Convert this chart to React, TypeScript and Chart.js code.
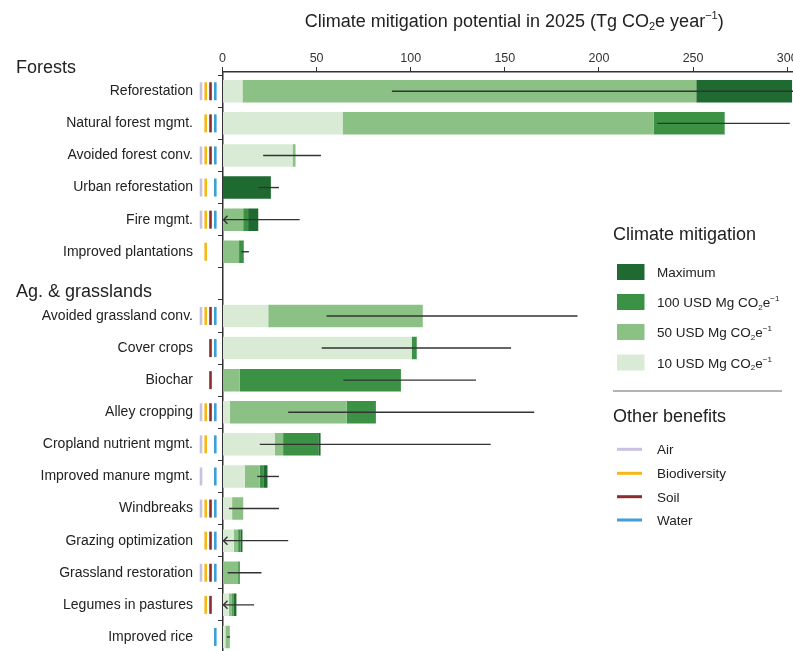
import { useEffect, useRef } from 'react';
import { Chart, registerables } from 'chart.js';

Chart.register(...registerables);

// categories top to bottom, "" is the spacer row under the Ag. & grasslands heading
const categories = [
  'Reforestation',
  'Natural forest mgmt.',
  'Avoided forest conv.',
  'Urban reforestation',
  'Fire mgmt.',
  'Improved plantations',
  '',
  'Avoided grassland conv.',
  'Cover crops',
  'Biochar',
  'Alley cropping',
  'Cropland nutrient mgmt.',
  'Improved manure mgmt.',
  'Windbreaks',
  'Grazing optimization',
  'Grassland restoration',
  'Legumes in pastures',
  'Improved rice',
];

// stacked segments (Tg CO2e / yr), each one added on top of the previous
const usd10 = [10.6, 63.8, 37.2, 0, 0, 0, null, 24.3, 100.5, 0, 3.9, 27.8, 11.9, 5.1, 6, 0, 3.4, 1.5];
const usd50 = [241.1, 165.2, 1.6, 0, 11, 8.8, null, 82.1, 0, 9.2, 62.1, 4.4, 7.9, 5.9, 2.3, 8.3, 1.7, 2.4];
const usd100 = [0, 37.8, 0, 0, 2.6, 2.5, null, 0, 2.7, 85.6, 15.5, 18.7, 2.2, 0, 1.3, 0.9, 0.8, 0];
const maximum = [50.9, 0, 0, 25.7, 5.4, 0, null, 0, 0, 0, 0, 1.2, 1.9, 0, 1.0, 0, 1.5, 0];

// uncertainty range (negative low = extends past zero, drawn as an arrow)
const errLow = [90, 231, 21.6, 19, -5, 10, null, 55.3, 52.7, 64.2, 34.9, 19.8, 18.4, 3.4, -3, 2.7, -3, 2.3];
const errHigh = [320, 301.4, 52.3, 30, 41, 14, null, 188.6, 153.3, 134.7, 165.6, 142.5, 30, 30, 34.9, 20.7, 16.8, 4];

// other benefits per row
const air = [1, 0, 1, 1, 1, 0, 0, 1, 0, 0, 1, 1, 1, 1, 0, 1, 0, 0];
const biodiversity = [1, 1, 1, 1, 1, 1, 0, 1, 0, 0, 1, 1, 0, 1, 1, 1, 1, 0];
const soil = [1, 1, 1, 0, 1, 0, 0, 1, 1, 1, 1, 0, 0, 1, 1, 1, 1, 0];
const water = [1, 1, 1, 1, 1, 0, 0, 1, 1, 0, 1, 1, 1, 1, 1, 1, 0, 1];

const xTicks = [0, 50, 100, 150, 200, 250, 300];

const C_MAX = '#1f6a30';
const C_100 = '#3b9244';
const C_50 = '#8cc185';
const C_10 = '#d9ebd5';
const C_AIR = '#c9c1df';
const C_BIO = '#f4b916';
const C_SOIL = '#8e2c2c';
const C_WATER = '#3d9fd6';

const FONT = '"Liberation Sans", Arial, sans-serif';
const INK = '#222';

type Part = [string, number]; // 0 normal, 1 subscript, 2 superscript

function drawRich(ctx: CanvasRenderingContext2D, parts: Part[], x: number, y: number, size: number, align: 'left' | 'center') {
  const small = Math.round(size * 0.62);
  let w = 0;
  parts.forEach(([t, k]) => {
    ctx.font = `${k ? small : size}px ${FONT}`;
    w += ctx.measureText(t).width;
  });
  let cx = align === 'center' ? x - w / 2 : x;
  ctx.textAlign = 'left';
  ctx.textBaseline = 'alphabetic';
  parts.forEach(([t, k]) => {
    ctx.font = `${k ? small : size}px ${FONT}`;
    const dy = k === 1 ? size * 0.22 : k === 2 ? -size * 0.42 : 0;
    ctx.fillText(t, cx, y + dy);
    cx += ctx.measureText(t).width;
  });
}

const overlay = {
  id: 'overlay',
  afterDatasetsDraw(chart: any) {
    const { ctx, scales: { x, y } } = chart;
    ctx.save();
    ctx.strokeStyle = '#333';
    ctx.lineWidth = 1.4;
    errLow.forEach((lo, i) => {
      const hi = errHigh[i];
      if (lo == null || hi == null) return;
      const py = y.getPixelForValue(i);
      const x1 = x.getPixelForValue(Math.max(lo, 0));
      const x2 = x.getPixelForValue(Math.min(hi, x.max));
      ctx.beginPath();
      ctx.moveTo(x1, py);
      ctx.lineTo(x2, py);
      ctx.stroke();
      if (lo < 0) {
        ctx.beginPath();
        ctx.moveTo(x1 + 5, py - 4);
        ctx.lineTo(x1 + 1, py);
        ctx.lineTo(x1 + 5, py + 4);
        ctx.stroke();
      }
    });
    ctx.restore();
  },
  afterDraw(chart: any) {
    const { ctx, chartArea, scales: { y } } = chart;
    ctx.save();

    // benefit ticks left of the axis
    const groups: [number[], string, number][] = [
      [air, C_AIR, -21.5],
      [biodiversity, C_BIO, -16.8],
      [soil, C_SOIL, -12],
      [water, C_WATER, -7.2],
    ];
    groups.forEach(([flags, color, dx]) => {
      ctx.fillStyle = color;
      flags.forEach((f, i) => {
        if (!f) return;
        const py = y.getPixelForValue(i);
        ctx.fillRect(chartArea.left + dx - 1.3, py - 9, 2.6, 18);
      });
    });

    ctx.fillStyle = INK;
    // group headings
    ctx.font = `18px ${FONT}`;
    ctx.textAlign = 'left';
    ctx.textBaseline = 'alphabetic';
    ctx.fillText('Forests', 16, chartArea.top + 0.5);
    ctx.fillText('Ag. & grasslands', 16, y.getPixelForValue(6) + 13.5);

    // axis title
    drawRich(
      ctx,
      [['Climate mitigation potential in 2025 (Tg CO', 0], ['2', 1], ['e year', 0], ['\u22121', 2], [')', 0]],
      (chartArea.left + chartArea.right) / 2,
      26.5,
      18,
      'center'
    );

    // legend
    const lx = 613;
    ctx.fillStyle = INK;
    ctx.font = `18px ${FONT}`;
    ctx.fillText('Climate mitigation', lx, 240);
    const swatches: [string, Part[], number][] = [
      [C_MAX, [['Maximum', 0]], 272],
      [C_100, [['100 USD Mg CO', 0], ['2', 1], ['e', 0], ['\u22121', 2]], 302],
      [C_50, [['50 USD Mg CO', 0], ['2', 1], ['e', 0], ['\u22121', 2]], 332],
      [C_10, [['10 USD Mg CO', 0], ['2', 1], ['e', 0], ['\u22121', 2]], 362.5],
    ];
    swatches.forEach(([color, parts, cy]) => {
      ctx.fillStyle = color;
      ctx.fillRect(lx + 4, cy - 8, 27.5, 16);
      ctx.fillStyle = INK;
      drawRich(ctx, parts, lx + 44, cy + 5, 13.5, 'left');
    });

    ctx.strokeStyle = '#9a9a9a';
    ctx.lineWidth = 1.5;
    ctx.beginPath();
    ctx.moveTo(lx, 391);
    ctx.lineTo(782, 391);
    ctx.stroke();

    ctx.fillStyle = INK;
    ctx.font = `18px ${FONT}`;
    ctx.fillText('Other benefits', lx, 422);
    const lines: [string, string, number][] = [
      [C_AIR, 'Air', 449.3],
      [C_BIO, 'Biodiversity', 473.3],
      [C_SOIL, 'Soil', 496.7],
      [C_WATER, 'Water', 520],
    ];
    lines.forEach(([color, label, cy]) => {
      ctx.fillStyle = color;
      ctx.fillRect(lx + 4, cy - 1.5, 25, 3);
      ctx.fillStyle = INK;
      ctx.font = `13.5px ${FONT}`;
      ctx.fillText(label, lx + 44, cy + 5);
    });

    ctx.restore();
  },
};

export default function App() {
  const chartRef = useRef<HTMLCanvasElement>(null);
  const chartInstance = useRef<Chart | null>(null);

  useEffect(() => {
    if (!chartRef.current) return;
    if (chartInstance.current) chartInstance.current.destroy();
    const ctx = chartRef.current.getContext('2d');
    if (!ctx) return;

    Chart.defaults.font.family = FONT;

    const ds = (label: string, data: (number | null)[], color: string) => ({
      label,
      data,
      backgroundColor: color,
      borderWidth: 0,
      barPercentage: 0.7,
      categoryPercentage: 1,
    });

    chartInstance.current = new Chart(ctx, {
      type: 'bar',
      data: {
        labels: categories,
        datasets: [
          ds('10 USD', usd10, C_10),
          ds('50 USD', usd50, C_50),
          ds('100 USD', usd100, C_100),
          ds('Maximum', maximum, C_MAX),
        ],
      },
      options: {
        indexAxis: 'y',
        responsive: false,
        animation: false,
        layout: { padding: { left: 0, right: 0, top: 0, bottom: 7 } },
        plugins: {
          legend: { display: false },
          tooltip: { enabled: false },
        },
        scales: {
          x: {
            type: 'linear',
            position: 'top',
            stacked: true,
            min: 0,
            max: 310,
            ticks: {
              includeBounds: false,
              color: '#333',
              font: { size: 12.5 },
              padding: 1,
            },
            afterBuildTicks: (s: any) => {
              s.ticks = xTicks.map((v) => ({ value: v }));
            },
            afterFit: (s: any) => {
              s.height = 72;
              s.paddingLeft = 0;
              s.paddingRight = 0;
            },
            grid: { drawOnChartArea: false, drawTicks: true, tickLength: 5, color: '#333' },
            border: { color: '#333', width: 1.5 },
          },
          y: {
            type: 'category',
            stacked: true,
            ticks: { color: INK, font: { size: 14 }, padding: 25 },
            afterBuildTicks: (s: any) => {
              s._startValue -= 0.1;
              s._valueRange += 0.1;
            },
            afterFit: (s: any) => {
              s.width = 222.5;
              s.paddingTop = 0;
              s.paddingBottom = 0;
            },
            grid: { drawOnChartArea: false, drawTicks: true, tickLength: 4.5, color: '#333' },
            border: { color: '#333', width: 1.5 },
          },
        },
      },
      plugins: [overlay],
    } as any);

    return () => {
      if (chartInstance.current) {
        chartInstance.current.destroy();
        chartInstance.current = null;
      }
    };
  }, []);

  return (
    <div style={{ position: 'fixed', left: 0, top: 0, width: 793, height: 651, overflow: 'hidden', background: '#fff' }}>
      <canvas ref={chartRef} width={806} height={660} style={{ display: 'block' }} />
    </div>
  );
}
